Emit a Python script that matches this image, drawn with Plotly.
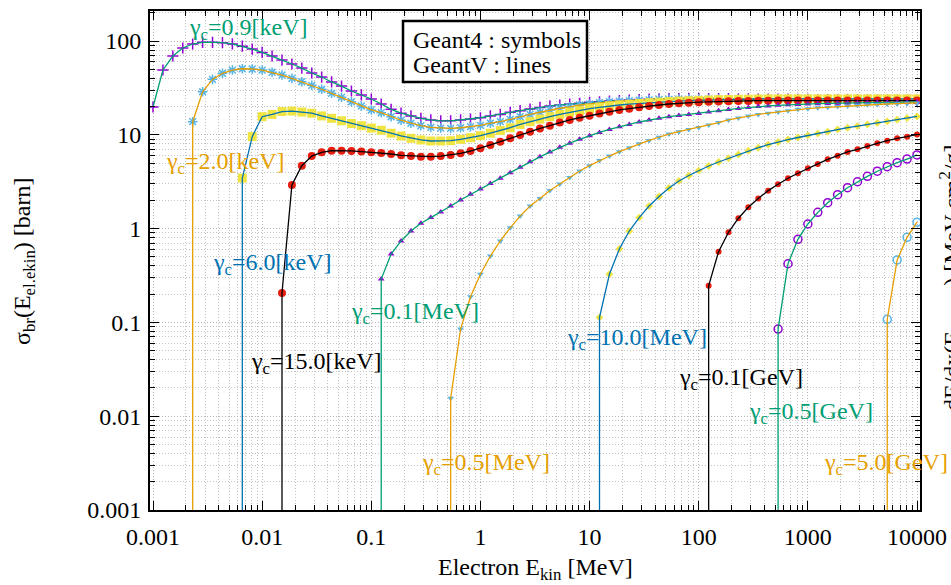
import plotly.graph_objects as go

# ---------------- data ----------------
# electron kinetic energy grid [MeV] (11 points per decade)
E_GRID_MEV = [
    0.001, 0.001233, 0.00152, 0.001874, 0.00231, 0.002848, 0.003511, 0.004329, 0.005337, 0.006579, 0.008111,
    0.01, 0.01233, 0.0152, 0.01874, 0.0231, 0.02848, 0.03511, 0.04329, 0.05337, 0.06579, 0.08111,
    0.1, 0.1233, 0.152, 0.1874, 0.231, 0.2848, 0.3511, 0.4329, 0.5337, 0.6579, 0.8111,
    1.0, 1.233, 1.52, 1.874, 2.31, 2.848, 3.511, 4.329, 5.337, 6.579, 8.111,
    10.0, 12.33, 15.2, 18.74, 23.1, 28.48, 35.11, 43.29, 53.37, 65.79, 81.11,
    100.0, 123.3, 152.0, 187.4, 231.0, 284.8, 351.1, 432.9, 533.7, 657.9, 811.1,
    1000.0, 1233.0, 1520.0, 1874.0, 2310.0, 2848.0, 3511.0, 4329.0, 5337.0, 6579.0, 8111.0,
    10000.0,
]

# cross sections [barn]; each list covers the last len(list) grid energies
SIGMA_0_9_KEV = [
    19.8, 49.1, 69.2, 84.2, 92.9, 96.9, 96.9, 95.9, 93.0, 88.0, 82.0, 75.5, 69.2, 62.7, 56.9, 51.5,
    45.6, 41.3, 36.6, 33.1, 29.3, 26.6, 24.1,
    21.3, 18.7, 17.0, 15.9, 15.0, 14.4, 14.1, 14.1, 14.4, 14.7, 15.2, 15.9, 16.5, 17.4, 18.1, 18.8,
    19.6, 20.3, 20.8, 21.3, 21.7, 22.2, 22.5,
    22.9, 23.2, 23.5, 23.8, 24.0, 24.2, 24.3, 24.4, 24.4, 24.4, 24.4, 24.3, 24.3, 24.2, 24.2, 24.1,
    24.1, 24.0, 24.0, 23.9, 23.9, 23.8, 23.8, 23.7, 23.7, 23.6, 23.6, 23.5, 23.5, 23.4, 23.4, 23.4,
]
SIGMA_2_0_KEV = [
    13.8, 28.8, 39.0, 45.3, 49.0, 50.6, 50.3, 49.0, 46.4, 43.4, 40.0, 36.8, 33.7, 30.6, 27.7, 25.1,
    22.5, 20.3, 18.4,
    17.2, 15.6, 14.3, 13.3, 12.5, 12.0, 11.8, 11.7, 11.9, 12.2, 12.6, 13.3, 13.8, 14.6, 15.6, 16.5,
    17.4, 18.4, 19.2, 19.9, 20.8, 21.3, 22.0, 22.5,
    22.8, 23.1, 23.4, 23.6, 23.8, 23.9, 24.0, 24.0,
    24.0, 24.0, 24.0, 23.9, 23.9, 23.9, 23.8, 23.8, 23.8, 23.7, 23.7, 23.7, 23.6, 23.6, 23.6, 23.5,
    23.5, 23.5, 23.4, 23.4, 23.4, 23.3, 23.3,
]
SIGMA_6_0_KEV = [
    3.46, 9.57, 15.6, 16.5, 17.7, 17.9, 17.5, 17.0, 15.9, 15.0, 14.1, 13.2, 12.5, 11.8,
    11.2, 10.4, 9.72, 9.18, 8.81, 8.59, 8.59, 8.66, 8.95, 9.31, 9.78, 10.4, 11.1, 11.9, 12.9, 13.8,
    14.7, 15.6, 16.5, 17.4, 18.1, 19.0, 19.6, 20.3, 20.8,
    21.2, 21.6, 22.0, 22.3, 22.6, 22.9, 23.1, 23.3, 23.5, 23.7, 23.8, 23.9, 24.0, 24.1,
    24.2, 24.2, 24.2, 24.2, 24.2, 24.2, 24.2, 24.2, 24.2, 24.2, 24.2, 24.2, 24.2, 24.2, 24.2, 24.2,
]
SIGMA_15_KEV = [
    0.206, 2.92, 4.69, 5.94, 6.51, 6.77, 6.77, 6.73, 6.62, 6.52,
    6.40, 6.24, 6.04, 5.94, 5.85, 5.85, 5.94, 6.09, 6.35, 6.72, 7.18, 7.79, 8.44, 9.18, 9.95, 10.8,
    11.7, 12.5, 13.5, 14.4, 15.2, 16.0, 16.9, 17.6, 18.4, 19.0, 19.7, 20.3, 20.8, 21.3, 21.7, 22.0,
    22.3, 22.5, 22.7, 22.8, 22.9, 23.0, 23.1, 23.1, 23.2, 23.2, 23.2, 23.2, 23.2, 23.2, 23.2, 23.2,
    23.2, 23.2, 23.2, 23.2, 23.2, 23.2, 23.2,
]
SIGMA_0_1_MEV = [
    0.29, 0.536, 0.738, 0.942, 1.14, 1.31, 1.50, 1.74,
    2.02, 2.32, 2.65, 3.02, 3.45, 3.95, 4.52, 5.15, 5.82, 6.55, 7.35, 8.15, 8.95, 9.78, 10.6, 11.4,
    12.2, 12.9, 13.7, 14.4, 15.0, 15.6, 16.1, 16.5,
    16.9, 17.5, 18.1, 18.6, 19.1, 19.6, 20.0, 20.3, 20.6, 20.9, 21.1, 21.3, 21.5, 21.6, 21.7, 21.8,
    21.9, 22.0, 22.1, 22.2, 22.2, 22.3, 22.4,
]
SIGMA_0_5_MEV = [
    0.0155, 0.085, 0.188, 0.326, 0.51, 0.738, 1.02, 1.36, 1.74, 2.10, 2.55, 2.99, 3.51, 4.11, 4.69,
    5.32, 5.94, 6.61, 7.26, 8.02, 8.71, 9.42, 10.2, 10.8, 11.4, 12.0, 12.7, 13.5, 14.4, 15.1, 15.9,
    16.5, 17.0, 17.5, 18.1, 18.7, 19.0, 19.4, 19.7, 20.0, 20.3, 20.6, 20.9, 21.1, 21.3, 21.5, 21.7,
    21.9,
]
SIGMA_10_MEV = [
    0.113, 0.326, 0.607, 0.942, 1.31, 1.74, 2.20, 2.71, 3.22, 3.68, 4.16, 4.65, 5.13, 5.61, 6.17,
    6.77, 7.28, 7.84, 8.38, 8.91, 9.36, 9.84, 10.3, 10.8, 11.4, 11.9, 12.4, 12.9, 13.4, 13.9, 14.5,
    15.1, 15.7,
]
SIGMA_0_1_GEV = [
    0.246, 0.568, 0.914, 1.29, 1.69, 2.10, 2.54, 2.97, 3.44, 3.89, 4.40, 4.89, 5.48, 5.98, 6.56,
    7.00, 7.60, 8.12, 8.66, 9.18, 9.54, 10.1,
]
SIGMA_0_5_GEV = [
    0.085, 0.422, 0.769, 1.12, 1.49, 1.89, 2.30, 2.73, 3.16, 3.61, 4.09, 4.57, 5.04, 5.52, 6.10,
]
SIGMA_5_0_GEV = [0.108, 0.463, 0.807, 1.17]

CUT_LABELS = ["0.9[keV]", "2.0[keV]", "6.0[keV]", "15.0[keV]", "0.1[MeV]",
              "0.5[MeV]", "10.0[MeV]", "0.1[GeV]", "0.5[GeV]", "5.0[GeV]"]
SERIES = [SIGMA_0_9_KEV, SIGMA_2_0_KEV, SIGMA_6_0_KEV, SIGMA_15_KEV, SIGMA_0_1_MEV,
          SIGMA_0_5_MEV, SIGMA_10_MEV, SIGMA_0_1_GEV, SIGMA_0_5_GEV, SIGMA_5_0_GEV]
ZERO_BELOW_CUT = 1e-6  # cross section vanishes below the cut (drawn down to the axis)

X_TICKS = [0.001, 0.01, 0.1, 1, 10, 100, 1000, 10000]
X_TICK_LABELS = ["0.001", "0.01", "0.1", "1", "10", "100", "1000", "10000"]
Y_TICKS = [0.001, 0.01, 0.1, 1, 10, 100]
Y_TICK_LABELS = ["0.001", "0.01", "0.1", "1", "10", "100"]

# ---------------- styles ----------------
GREEN, ORANGE, BLUE, BLACK = "#009E73", "#E69F00", "#0072B2", "#000000"
PURPLE, LBLUE, YELLOW, RED = "#9400D3", "#56B4E9", "#F0E442", "#E51E10"
STYLES = [
    dict(line=GREEN, sym="cross-thin-open", mc=PURPLE, ms=8, open=True, drop=False),
    dict(line=ORANGE, sym="asterisk-open", mc=LBLUE, ms=8, open=True, drop=True),
    dict(line=BLUE, sym="square", mc=YELLOW, ms=9, open=False, drop=True),
    dict(line=BLACK, sym="circle", mc=RED, ms=8, open=False, drop=True),
    dict(line=GREEN, sym="triangle-up", mc=PURPLE, ms=6, open=False, drop=True),
    dict(line=ORANGE, sym="triangle-down", mc=LBLUE, ms=6, open=False, drop=True),
    dict(line=BLUE, sym="diamond", mc=YELLOW, ms=6, open=False, drop=True),
    dict(line=BLACK, sym="circle", mc=RED, ms=6, open=False, drop=True),
    dict(line=GREEN, sym="circle-open", mc=PURPLE, ms=8, open=True, drop=True),
    dict(line=ORANGE, sym="circle-open", mc=LBLUE, ms=8, open=True, drop=True),
]
# label placement in pixels (left x, centre y)
LABEL_PX = [(187, 29), (164, 163), (211, 264), (249, 363), (349, 313),
            (420, 464), (565, 339), (677, 379), (747, 413), (822, 464)]

W, H = 951, 585
L, R, T, B = 150, 31, 11, 75
PW, PH = W - L - R, H - T - B


def px(x):
    return (x - L) / PW


def py(y):
    return (H - B - y) / PH


FONT = "Liberation Serif"

fig = go.Figure()
for vals, st in zip(SERIES, STYLES):
    xs = E_GRID_MEV[len(E_GRID_MEV) - len(vals):]
    mk = dict(symbol=st["sym"], size=st["ms"], color=st["mc"])
    if st["open"]:
        mk["line"] = dict(color=st["mc"], width=1.5)
    else:
        mk["line"] = dict(width=0)
    fig.add_trace(go.Scatter(x=xs, y=vals, mode="markers", marker=mk,
                             showlegend=False, hoverinfo="skip", cliponaxis=True))
    lx = ([xs[0]] if st["drop"] else []) + list(xs)
    ly = ([ZERO_BELOW_CUT] if st["drop"] else []) + list(vals)
    fig.add_trace(go.Scatter(x=lx, y=ly, mode="lines",
                             line=dict(color=st["line"], width=1.3),
                             showlegend=False, hoverinfo="skip"))

annotations = []
for text, st, (lx, ly) in zip(CUT_LABELS, STYLES, LABEL_PX):
    annotations.append(dict(
        x=px(lx), y=py(ly), xref="paper", yref="paper", xanchor="left", yanchor="middle",
        text="γ<sub>c</sub>=" + text, showarrow=False,
        font=dict(family=FONT, size=24, color=st["line"])))

# legend-like text box
annotations += [
    dict(x=px(411), y=py(40), xref="paper", yref="paper", xanchor="left", yanchor="middle",
         text="Geant4 : symbols", showarrow=False, font=dict(family=FONT, size=24, color="black")),
    dict(x=px(411), y=py(65), xref="paper", yref="paper", xanchor="left", yanchor="middle",
         text="GeantV : lines", showarrow=False, font=dict(family=FONT, size=24, color="black")),
    # axis titles
    dict(x=0.5, y=py(569), xref="paper", yref="paper", xanchor="center", yanchor="middle",
         text="Electron E<sub>kin</sub> [MeV]", showarrow=False,
         font=dict(family=FONT, size=24, color="black")),
    dict(x=px(24), y=py(262), xref="paper", yref="paper", xanchor="center", yanchor="middle",
         text="σ<sub>br</sub>(E<sub>el.ekin</sub>) [barn]", textangle=-90, showarrow=False,
         font=dict(family=FONT, size=24, color="black")),
    # neighbouring panel's axis title, cut by the image border
    dict(x=px(952), y=py(278), xref="paper", yref="paper", xanchor="center", yanchor="middle",
         text="dE/dx(E<sub>el.ekin</sub>) [MeV cm<sup>2</sup>/g]", textangle=-90, showarrow=False,
         font=dict(family=FONT, size=24, color="black")),
]

shapes = [dict(type="rect", xref="paper", yref="paper", x0=px(403), x1=px(587),
               y0=py(82), y1=py(21), line=dict(color="black", width=2.5), fillcolor="white",
               layer="above")]

MINOR_X = [m * 10.0 ** e for e in range(-3, 4) for m in range(2, 10)]
MINOR_Y = [m * 10.0 ** e for e in range(-3, 3) for m in range(2, 10)]

axis_common = dict(
    type="log", showline=True, linewidth=2, linecolor="black", mirror="allticks",
    ticks="inside", ticklen=9, tickwidth=1.3, tickcolor="black",
    showgrid=True, gridcolor="#b4b4b4", gridwidth=1, griddash="1px,2px", zeroline=False,
    tickfont=dict(family=FONT, size=24, color="black"),
)
fig.update_layout(
    width=W, height=H, margin=dict(l=L, r=R, t=T, b=B, autoexpand=False),
    paper_bgcolor="white", plot_bgcolor="white", showlegend=False,
    xaxis=dict(**axis_common, range=[-3.0275, 4.0275], tickmode="array",
               tickvals=X_TICKS, ticktext=X_TICK_LABELS, ticklabelstandoff=4,
               minor=dict(tickmode="array", tickvals=MINOR_X, ticks="inside", ticklen=5,
                          tickcolor="black", tickwidth=1, showgrid=True, gridcolor="#c4c4c4",
                          griddash="1px,2px", gridwidth=1)),
    yaxis=dict(**axis_common, range=[-3, 2.32], tickmode="array",
               tickvals=Y_TICKS, ticktext=Y_TICK_LABELS, ticklabelstandoff=2,
               minor=dict(tickmode="array", tickvals=MINOR_Y, ticks="inside", ticklen=5,
                          tickcolor="black", tickwidth=1, showgrid=True, gridcolor="#c4c4c4",
                          griddash="1px,2px", gridwidth=1)),
    annotations=annotations, shapes=shapes,
)

fig.write_html("out.html")
